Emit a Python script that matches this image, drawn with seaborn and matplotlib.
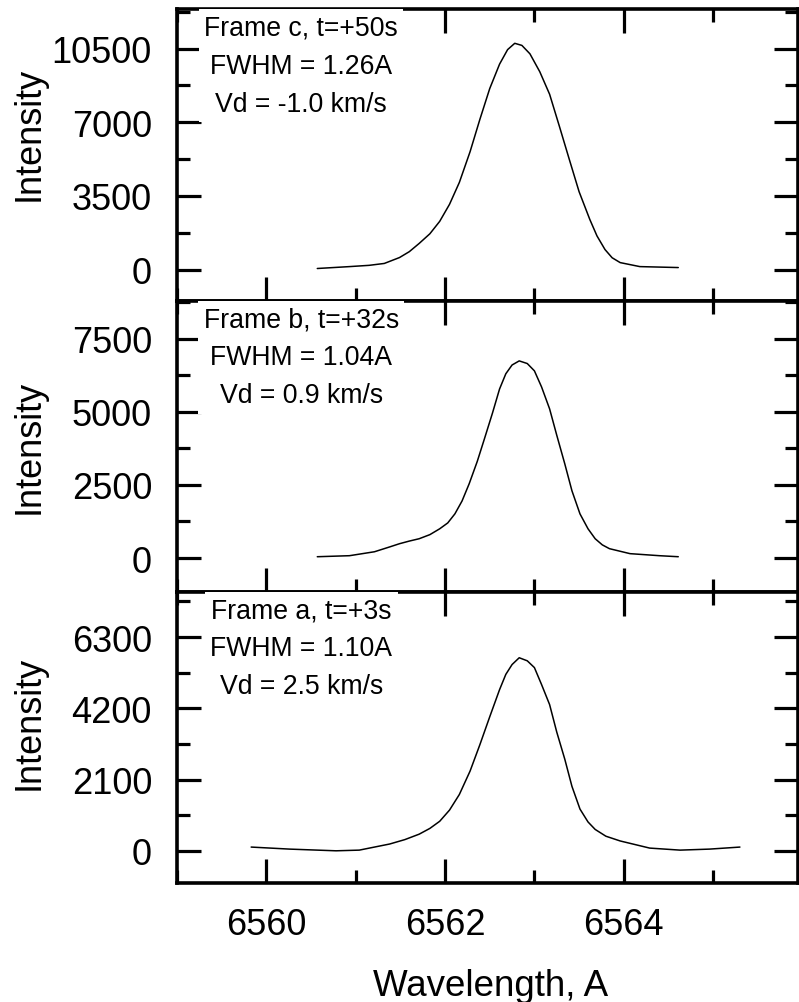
import numpy as np
import pandas as pd
import matplotlib
matplotlib.use("Agg")
import matplotlib.pyplot as plt
from matplotlib.ticker import MultipleLocator, NullFormatter
import seaborn as sns

# ---------------- data ----------------
wl_c = [6560.57, 6560.93, 6561.15, 6561.32, 6561.49, 6561.60, 6561.71, 6561.83,
        6561.94, 6562.05, 6562.16, 6562.28, 6562.39, 6562.50, 6562.61, 6562.70,
        6562.78, 6562.86, 6562.95, 6563.06, 6563.17, 6563.28, 6563.39, 6563.50,
        6563.62, 6563.70, 6563.79, 6563.87, 6563.96, 6564.18, 6564.61]
int_c = [50, 140, 200, 290, 570, 850, 1240, 1700,
         2290, 3100, 4140, 5600, 7140, 8600, 9760, 10450,
         10750, 10650, 10250, 9400, 8330, 6800, 5240, 3700,
         2380, 1600, 950, 560, 330, 140, 95]

wl_b = [6560.57, 6560.93, 6561.21, 6561.38, 6561.49, 6561.60, 6561.71, 6561.83,
        6561.94, 6562.03, 6562.11, 6562.19, 6562.27, 6562.36, 6562.44, 6562.53,
        6562.61, 6562.68, 6562.75, 6562.83, 6562.92, 6563.00, 6563.08, 6563.17,
        6563.25, 6563.34, 6563.42, 6563.51, 6563.60, 6563.68, 6563.76, 6563.84,
        6564.07, 6564.40, 6564.61]
int_b = [45, 80, 215, 380, 490, 580, 660, 800,
         1000, 1200, 1510, 1950, 2540, 3300, 4070, 4950,
         5780, 6300, 6600, 6740, 6650, 6400, 5850, 5100,
         4200, 3220, 2300, 1510, 1000, 660, 450, 320,
         150, 80, 45]

wl_a = [6559.83, 6560.26, 6560.78, 6561.04, 6561.38, 6561.55, 6561.71, 6561.83,
        6561.94, 6562.05, 6562.16, 6562.28, 6562.39, 6562.50, 6562.61, 6562.68,
        6562.75, 6562.83, 6562.92, 6563.00, 6563.08, 6563.17, 6563.25, 6563.34,
        6563.42, 6563.51, 6563.60, 6563.68, 6563.80, 6563.96, 6564.29, 6564.63,
        6564.96, 6565.30]
int_a = [110, 50, 0, 20, 200, 330, 490, 660,
         870, 1200, 1660, 2350, 3130, 3950, 4750, 5200,
         5490, 5690, 5600, 5400, 4900, 4310, 3500, 2700,
         1900, 1230, 850, 630, 430, 290, 80, 20,
         50, 110]

labels = ["Frame c, t=+50s\nFWHM = 1.26A\nVd = -1.0 km/s",
          "Frame b, t=+32s\nFWHM = 1.04A\nVd = 0.9 km/s",
          "Frame a, t=+3s\nFWHM = 1.10A\nVd = 2.5 km/s"]
major_steps = [3500, 2500, 2100]
ylims = [(-1480, 12380), (-1161, 8798), (-949, 7628)]
x_major = [6560, 6562, 6564]
ylabel_y = [0.577, 0.5, 0.553]

# ---------------- style ----------------
sns.set_style("ticks")
plt.rcParams['font.family'] = ['Liberation Sans', 'DejaVu Sans']
plt.rcParams['text.color'] = 'black'
plt.rcParams['axes.labelcolor'] = 'black'
plt.rcParams['xtick.color'] = 'black'
plt.rcParams['ytick.color'] = 'black'
plt.rcParams['xtick.labelcolor'] = 'black'
plt.rcParams['ytick.labelcolor'] = 'black'

fig = plt.figure(figsize=(7.99, 10.03), dpi=100)
left = 177 / 799
right = 798 / 799
tops_px = [10, 301.7, 593, 884]
axes = []
for i in range(3):
    b = 1 - tops_px[i + 1] / 1003
    t = 1 - tops_px[i] / 1003
    axes.append(fig.add_axes([left, b, right - left, t - b]))

series = [(wl_c, int_c), (wl_b, int_b), (wl_a, int_a)]
for i, ax in enumerate(axes):
    df = pd.DataFrame({"wl": series[i][0], "I": series[i][1]})
    sns.lineplot(data=df, x="wl", y="I", ax=ax, color="black", lw=1.1,
                 sort=False, estimator=None)
    ax.set_xlim(6559, 6565.95)
    ax.set_ylim(*ylims[i])
    ax.xaxis.set_major_locator(MultipleLocator(2))
    ax.xaxis.set_minor_locator(MultipleLocator(1))
    ax.yaxis.set_major_locator(MultipleLocator(major_steps[i]))
    ax.yaxis.set_minor_locator(MultipleLocator(major_steps[i] / 2))
    ax.tick_params(which="both", direction="in", top=True, right=True,
                   width=2.3, color="black")
    ax.tick_params(which="major", length=17)
    ax.tick_params(which="minor", length=9.5)
    ax.tick_params(axis="y", which="major", labelsize=26, pad=18,
                   labelcolor="black")
    ax.tick_params(axis="x", which="major", labelsize=26, pad=17,
                   labelcolor="black")
    for s in ax.spines.values():
        s.set_linewidth(2.6)
        s.set_color("black")
    ax.set_ylabel("Intensity", fontsize=26, color="black")
    ax.yaxis.set_label_coords(-0.21, ylabel_y[i])
    if i < 2:
        ax.set_xlabel("")
        ax.xaxis.set_major_formatter(NullFormatter())
    else:
        ax.set_xticks(x_major)
        ax.set_xticklabels([str(v) for v in x_major])
        ax.set_xlabel("Wavelength, A", fontsize=26.5, color="black")
        ax.xaxis.set_label_coords(0.505, -0.292)
    ax.text(0.2, 0.806, labels[i], transform=ax.transAxes, ha="center",
            va="center", multialignment="center", fontsize=19.2,
            linespacing=1.6, zorder=5, color="black",
            bbox=dict(boxstyle="square,pad=0.2", facecolor="white",
                      edgecolor="none"))

fig.savefig("out.png", dpi=100)
